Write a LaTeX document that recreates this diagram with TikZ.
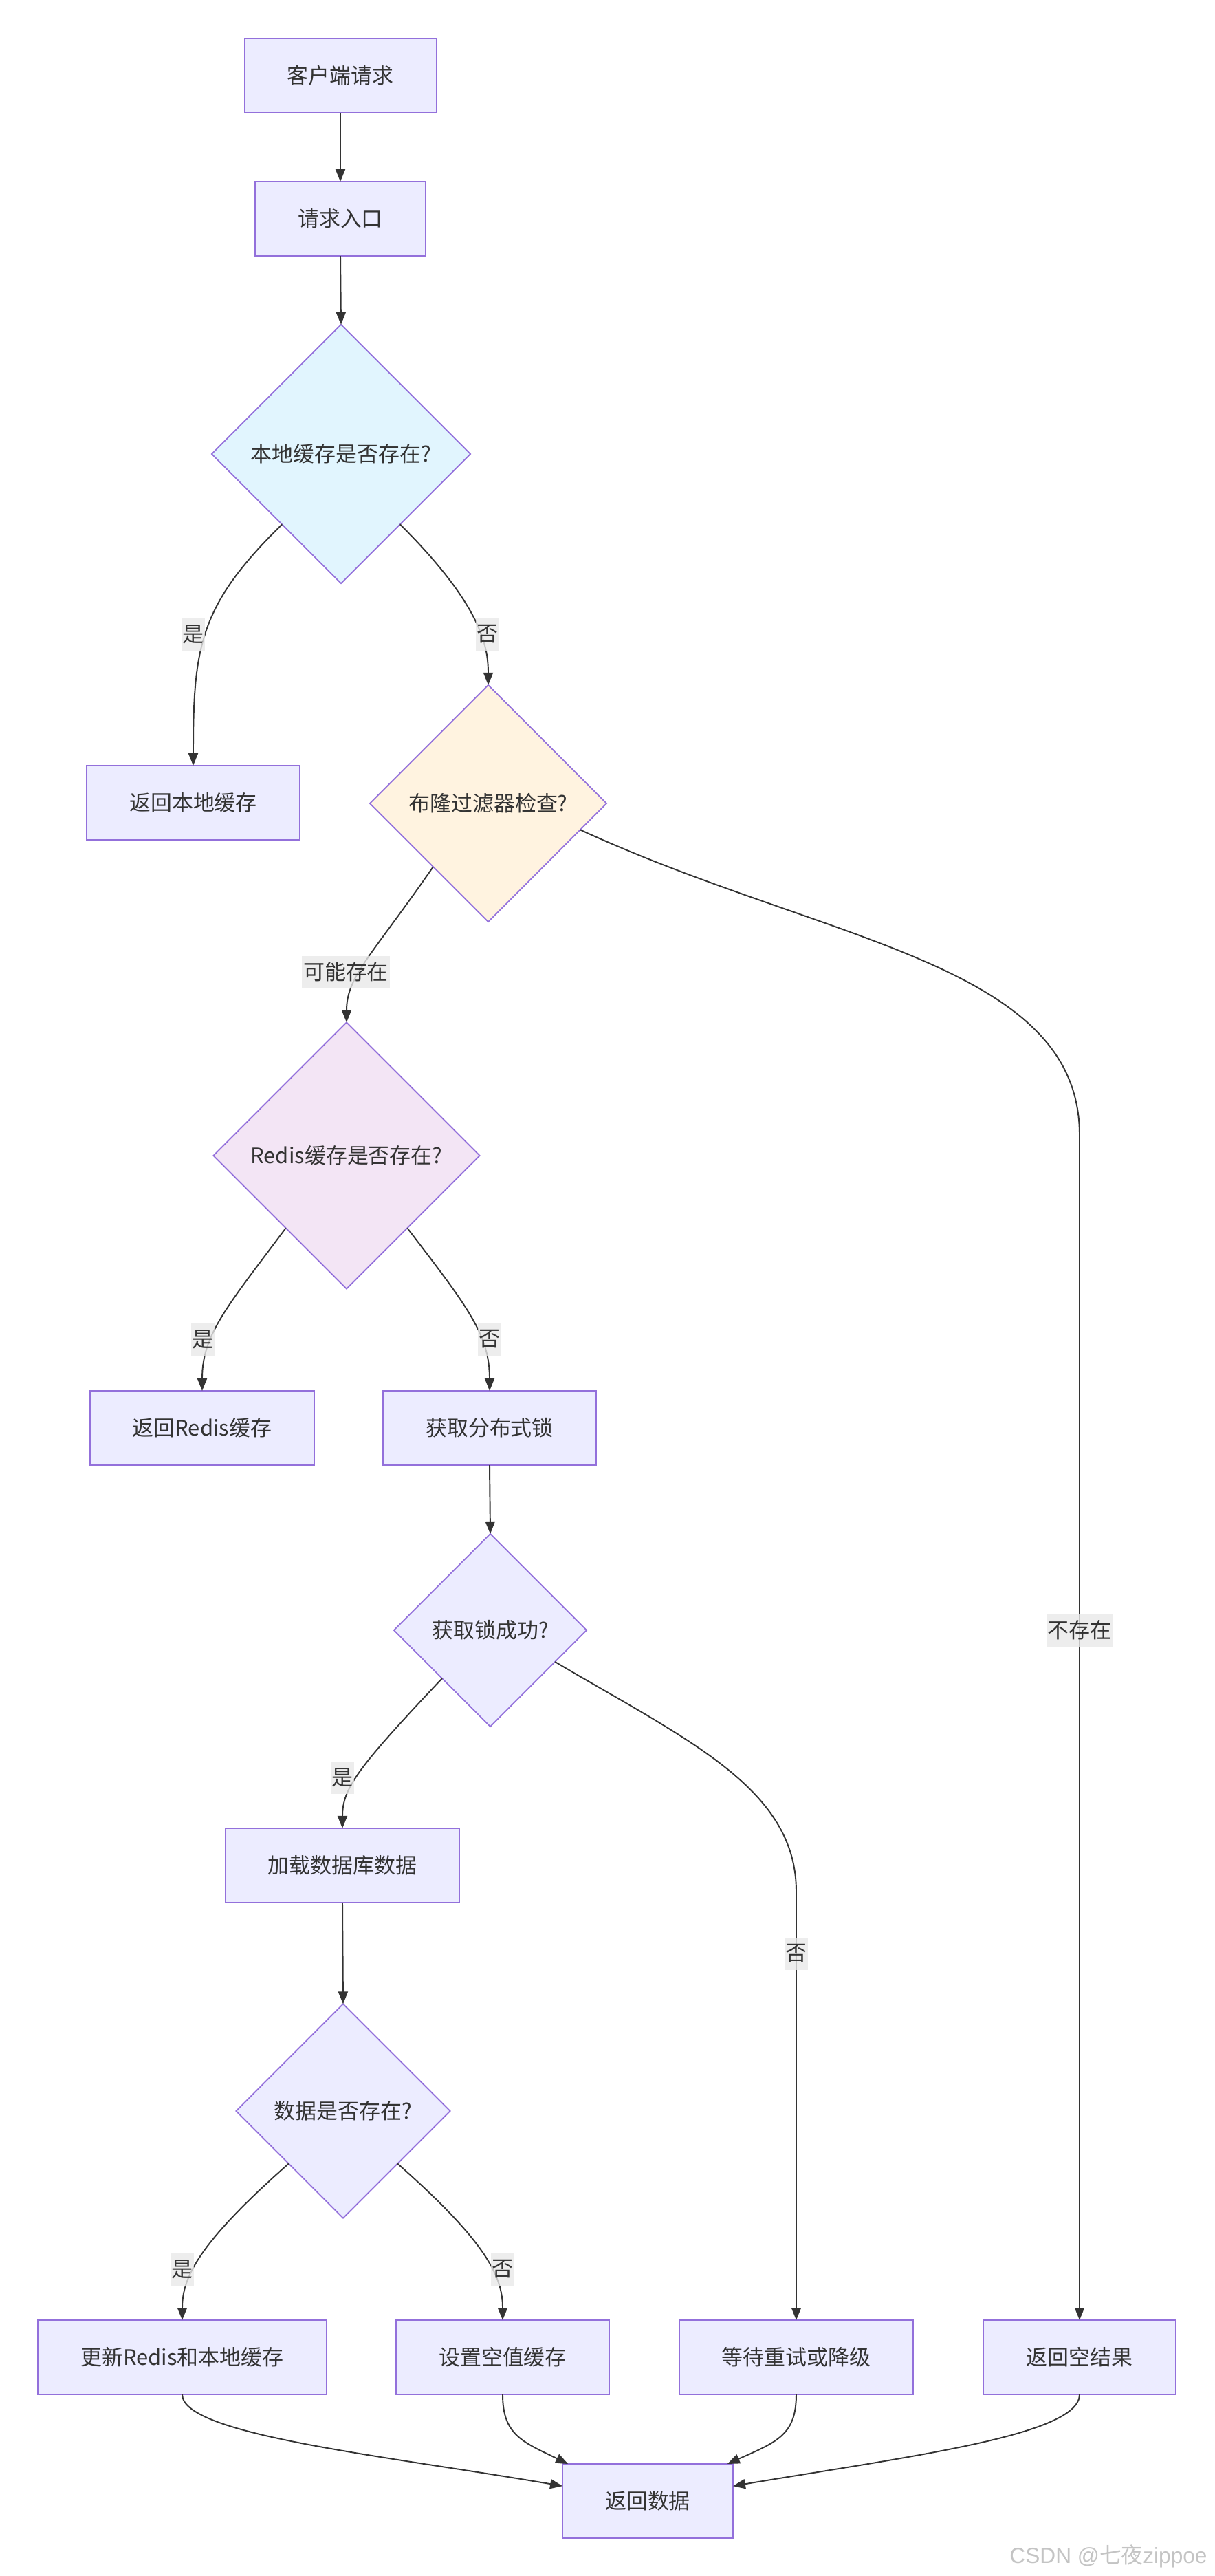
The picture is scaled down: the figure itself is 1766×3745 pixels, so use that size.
\documentclass[tikz,border=0pt]{standalone}
\usepackage{fontspec}
\setmainfont{Noto Sans CJK SC}
\newfontfamily\wmfont{Liberation Sans}
\newfontfamily\cjk{Noto Sans CJK SC}
\usetikzlibrary{shapes.geometric,arrows.meta}
\definecolor{boxfill}{HTML}{ECECFF}
\definecolor{boxline}{HTML}{9370DB}
\definecolor{txt}{HTML}{333333}
\definecolor{localfill}{HTML}{E1F5FE}
\definecolor{bloomfill}{HTML}{FFF3E0}
\definecolor{redisfill}{HTML}{F3E5F5}
\definecolor{labelfill}{HTML}{E8E8E8}
\definecolor{wmgray}{HTML}{C4C4C4}
\tikzset{
	procbox/.style={draw=boxline,fill=boxfill,line width=.5pt,text=txt,font=\fontsize{8.8pt}{10pt}\selectfont,minimum height=1.08cm,inner xsep=.62cm,inner ysep=0pt,outer sep=0pt},
	decision/.style={diamond,aspect=1,draw=boxline,fill=boxfill,line width=.5pt,text=txt,font=\fontsize{8.8pt}{10pt}\selectfont,inner sep=0pt,outer sep=0pt,minimum width=#1,minimum height=#1},
	edgelabel/.style={fill=labelfill,fill opacity=.8,text opacity=1,text=txt,font=\fontsize{8.8pt}{10pt}\selectfont,inner xsep=.02cm,inner ysep=0pt,minimum height=.47cm},
	flow/.style={draw=txt,line width=.55pt,-{Triangle[length=.18cm,width=.14cm]}}
}
\begin{document}
\begin{tikzpicture}[x=.01cm,y=-.01cm]
	\useasboundingbox (0,0) rectangle (1766,3745);
	% boxes
	\foreach \n/\x/\y/\t in {
			1/495/110/客户端请求,
			2/495/318/请求入口,
			4/281/1167/返回本地缓存,
			7/294/2076/返回Redis缓存,
			8/712/2076/获取分布式锁,
			10/498/2712/加载数据库数据,
			12/265/3427/更新Redis和本地缓存,
			13/731/3427/设置空值缓存,
			14/1158/3427/等待重试或降级,
			15/1570/3427/返回空结果,
			16/942/3636/返回数据
		}
	\node[procbox](\n) at(\x,\y){\t};
	% decisions
	\node[decision=3.76cm,fill=localfill](3) at(496,660){本地缓存是否存在?};
	\node[decision=3.44cm,fill=bloomfill](5) at(710,1168){布隆过滤器检查?};
	\node[decision=3.87cm,fill=redisfill](6) at(504,1680){Redis缓存是否存在?};
	\node[decision=2.80cm](9) at(713,2370){获取锁成功?};
	\node[decision=3.11cm](11) at(499,3069){数据是否存在?};
	% connectors
	\draw[flow] (1.south) -- (2.north);
	\draw[flow] (2.south) -- (3.north);
	\draw[flow] (3.-130) .. controls (290,880) and (281,940) .. (4.north);
	\draw[flow] (3.-50) .. controls (700,880) and (710,940) .. (5.north);
	\draw[flow] (5.-131) .. controls (540,1390) and (504,1420) .. (6.north);
	\draw[flow] (5.-16) .. controls (1200,1370) and (1570,1400) .. (1570,1650) -- (15.north);
	\draw[flow] (6.-130) .. controls (330,1900) and (294,1940) .. (7.north);
	\draw[flow] (6.-50) .. controls (680,1900) and (712,1940) .. (8.north);
	\draw[flow] (8.south) -- (9.north);
	\draw[flow] (9.-135) .. controls (520,2570) and (498,2600) .. (10.north);
	\draw[flow] (9.-26) .. controls (1000,2530) and (1158,2600) .. (1158,2750) -- (14.north);
	\draw[flow] (10.south) -- (11.north);
	\draw[flow] (11.-136) .. controls (290,3260) and (265,3310) .. (12.north);
	\draw[flow] (11.-44) .. controls (708,3260) and (731,3310) .. (13.north);
	\draw[flow] (12.south) .. controls (265,3540) and (560,3570) .. (16.170);
	\draw[flow] (13.south) .. controls (731,3540) and (760,3550) .. (16.155);
	\draw[flow] (14.south) .. controls (1158,3540) and (1130,3550) .. (16.25);
	\draw[flow] (15.south) .. controls (1570,3540) and (1330,3570) .. (16.10);
	% labels
	\foreach \t/\x/\y[count=\i] in {
			是/281/922,
			否/709/922,
			可能存在/503/1413,
			不存在/1570/2370,
			是/295/1947,
			否/712/1947,
			是/498/2584,
			否/1158/2840,
			是/265/3299,
			否/731/3299
		}
	\node[edgelabel](e\i) at(\x,\y){\t};
	\node[text=wmgray,font=\wmfont\fontsize{9pt}{10pt}\selectfont,inner sep=0pt](wm) at(1612,3716){CSDN @{\cjk 七夜}zippoe};
\end{tikzpicture}
\end{document}
